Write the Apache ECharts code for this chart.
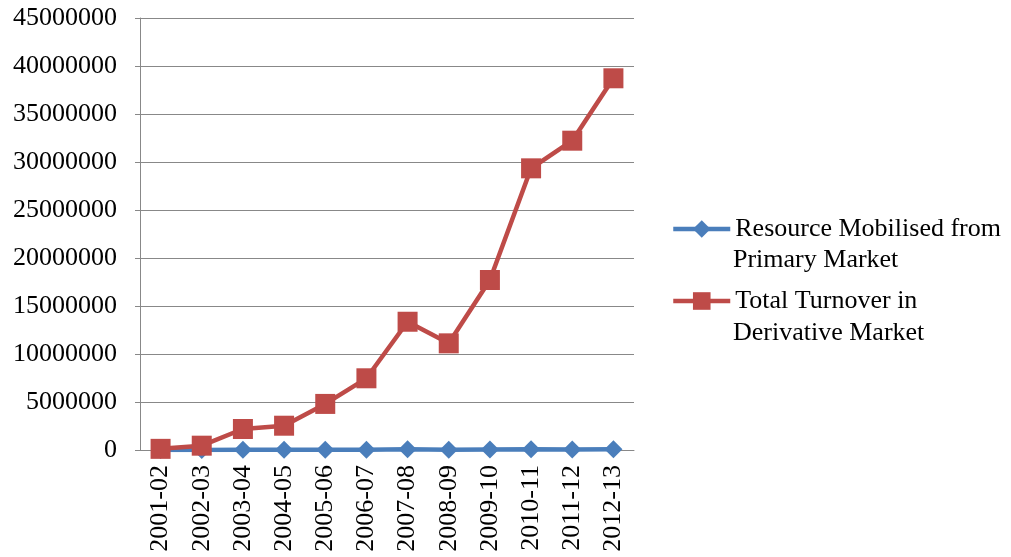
<!DOCTYPE html>
<html>
<head>
<meta charset="utf-8">
<script src="https://cdn.jsdelivr.net/npm/echarts@6/dist/echarts.min.js"></script>
<style>html,body{margin:0;padding:0;background:#fff}#c{width:1011px;height:557px}</style>
</head>
<body>
<div id="c"></div>
<script>
var categories = ['2001-02','2002-03','2003-04','2004-05','2005-06','2006-07','2007-08','2008-09','2009-10','2010-11','2011-12','2012-13'];
var primaryMarket = [7543, 4070, 23272, 28256, 27382, 33508, 87029, 16220, 57555, 67609, 48468, 66528];
var derivativeTurnover = [120000, 450000, 2190000, 2530000, 4800000, 7470000, 13360000, 11110000, 17710000, 29340000, 32220000, 38720000];
var yTicks = [0, 5000000, 10000000, 15000000, 20000000, 25000000, 30000000, 35000000, 40000000, 45000000];
var seriesNames = ['Resource Mobilised from\nPrimary Market', 'Total Turnover in\nDerivative Market'];

var FONT = '"Liberation Serif", "Times New Roman", serif';
var FS = 26;
var chart = echarts.init(document.getElementById('c'), null, {renderer: 'canvas'});
var firstLine = function (s) { return s.split('\n')[0]; };
var secondLine = function (s) { return s.split('\n')[1]; };

chart.setOption({
  animation: false,
  backgroundColor: '#ffffff',
  grid: {left: 140, right: 377, top: 18, bottom: 107, containLabel: false},
  xAxis: {
    type: 'category',
    data: categories,
    boundaryGap: true,
    axisLine: {lineStyle: {color: '#888888', width: 1}},
    axisTick: {show: false},
    axisLabel: {rotate: 90, margin: 15, color: '#000', fontFamily: FONT, fontSize: FS}
  },
  yAxis: {
    type: 'value',
    min: yTicks[0],
    max: yTicks[yTicks.length - 1],
    interval: yTicks[1] - yTicks[0],
    axisLine: {show: true, lineStyle: {color: '#888888', width: 1}},
    axisTick: {show: true, length: 5, lineStyle: {color: '#888888'}},
    splitLine: {show: true, lineStyle: {color: '#888888', width: 1}},
    axisLabel: {margin: 23, color: '#000', fontFamily: FONT, fontSize: FS,
      formatter: function (v) { return String(v); }}
  },
  legend: {
    orient: 'vertical',
    left: 671,
    top: 213,
    padding: 0,
    itemWidth: 57,
    itemHeight: 22,
    itemGap: 40,
    lineStyle: {width: 4.5},
    formatter: function (name) { return firstLine(name); },
    textStyle: {color: '#000', fontFamily: FONT, fontSize: FS, lineHeight: 32},
    data: seriesNames
  },
  graphic: [
    {type: 'text', left: 733, top: 247, style: {text: secondLine(seriesNames[0]), fill: '#000', font: FS + 'px ' + FONT}},
    {type: 'text', left: 733, top: 320, style: {text: secondLine(seriesNames[1]), fill: '#000', font: FS + 'px ' + FONT}}
  ],
  series: [
    {
      name: seriesNames[0],
      type: 'line',
      data: primaryMarket,
      symbol: 'diamond',
      symbolSize: 18,
      color: '#4a7ebb',
      lineStyle: {width: 4.5, color: '#4a7ebb'},
      itemStyle: {color: '#4a7ebb'},
      z: 2
    },
    {
      name: seriesNames[1],
      type: 'line',
      data: derivativeTurnover,
      symbol: 'rect',
      symbolSize: 20,
      color: '#be4b48',
      lineStyle: {width: 4.5, color: '#be4b48'},
      itemStyle: {color: '#be4b48'},
      z: 3
    }
  ]
});
</script>
</body>
</html>
